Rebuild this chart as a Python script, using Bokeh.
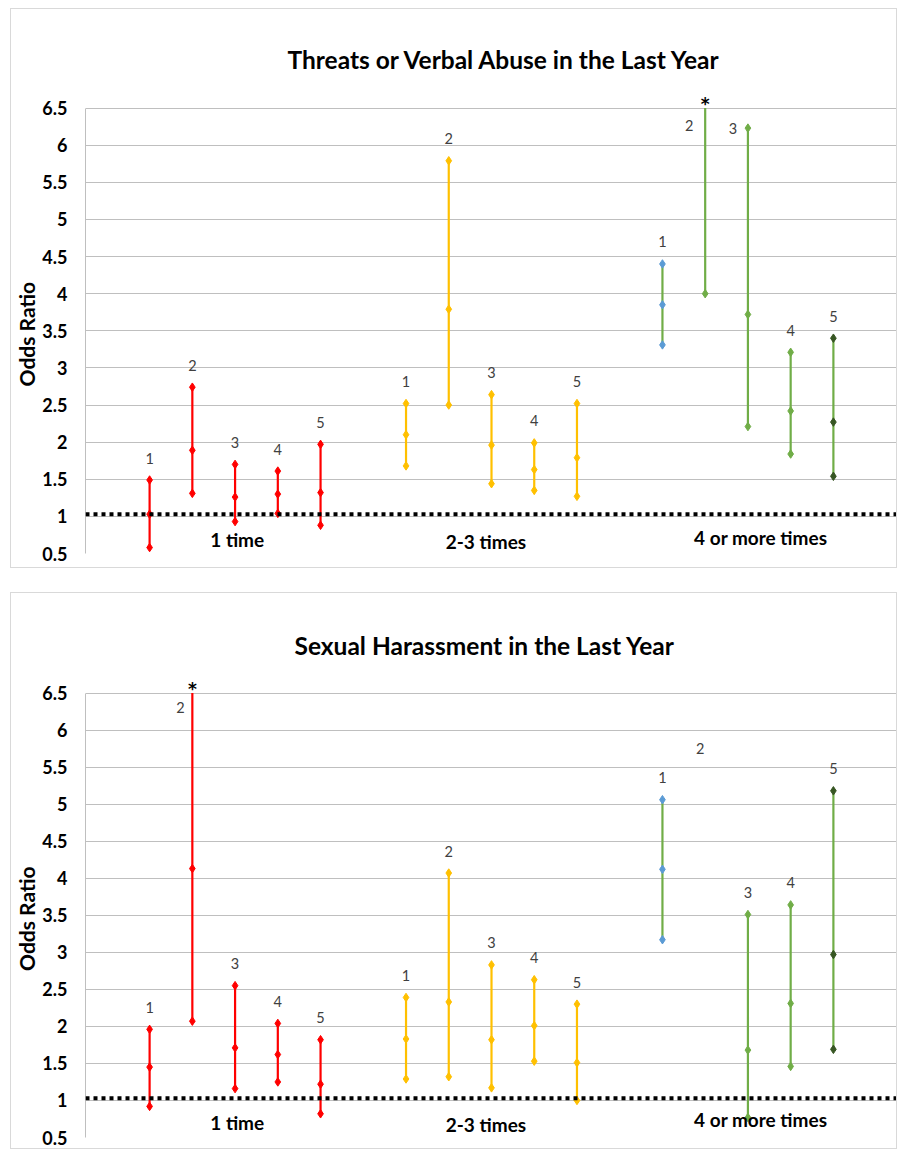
import math
from bokeh.plotting import figure
from bokeh.layouts import column
from bokeh.models import ColumnDataSource, Range1d, FixedTicker, Span
from bokeh.core.properties import value
from bokeh.embed import file_html
from bokeh.resources import INLINE

NaN = float("nan")

# ---------------- data ----------------
groups = ["1 time", "2-3 times", "4 or more times"]
items = ["1", "2", "3", "4", "5"]

# Threats or Verbal Abuse (group-major order: 1 time 1..5, 2-3 times 1..5, 4+ times 1..5)
threats_low = [0.58, 1.31, 0.93, 1.04, 0.88,
               1.68, 2.50, 1.44, 1.35, 1.27,
               3.31, 4.00, 2.21, 1.84, 1.54]
threats_mid = [1.03, 1.89, 1.26, 1.30, 1.32,
               2.10, 3.79, 1.96, 1.63, 1.79,
               3.85, NaN, 3.72, 2.42, 2.27]
threats_high = [1.49, 2.74, 1.70, 1.61, 1.97,
                2.52, 5.79, 2.64, 1.99, 2.52,
                4.40, NaN, 6.23, 3.21, 3.40]
threats_offscale = [False, False, False, False, False,
                    False, False, False, False, False,
                    False, True, False, False, False]

# Sexual Harassment
sexual_low = [0.92, 2.07, 1.16, 1.25, 0.82,
              1.29, 1.32, 1.17, 1.53, 1.00,
              3.17, NaN, 0.77, 1.46, 1.69]
sexual_mid = [1.45, 4.13, 1.71, 1.62, 1.22,
              1.83, 2.33, 1.82, 2.01, 1.51,
              4.12, NaN, 1.68, 2.31, 2.97]
sexual_high = [1.96, NaN, 2.55, 2.04, 1.82,
               2.39, 4.07, 2.83, 2.63, 2.30,
               5.06, NaN, 3.51, 3.64, 5.18]
sexual_offscale = [False, True, False, False, False,
                   False, False, False, False, False,
                   False, False, False, False, False]

y_ticks = [0.5, 1, 1.5, 2, 2.5, 3, 3.5, 4, 4.5, 5, 5.5, 6, 6.5]

# ---------------- style ----------------
FONT = "Lato"
LINE_COLORS = ["#FF0000", "#FFC000", "#70AD47"]
MARKER_COLORS = [["#FF0000"] * 5, ["#FFC000"] * 5,
                 ["#5B9BD5", "#70AD47", "#70AD47", "#70AD47", "#375623"]]
GRID = "#BFBFBF"
Y0, Y1 = 0.5, 6.5
Y_TOP = 6.75  # small headroom above the scale for the "*" marks
NB = "\u00a0"


def make_chart(title, low, mid, high, offscale, special_labels, height, top, bottom,
               title_offset, title_standoff):
    p = figure(width=887, height=height, output_backend="svg", toolbar_location=None,
               x_range=Range1d(-1.5, 17.5), y_range=Range1d(Y0, Y_TOP),
               min_border_left=72, min_border_right=1, min_border_top=top,
               min_border_bottom=bottom)
    p.outline_line_color = None
    p.styles = {"border": "1px solid #D9D9D9"}
    p.title.text = title
    p.title.align = "left"
    p.title.text_font = FONT
    p.title.text_font_style = "bold"
    p.title.text_font_size = "24.5px"
    p.title.text_color = "#000000"
    p.title.standoff = title_standoff
    p.title.offset = title_offset

    p.xaxis.visible = False
    p.xgrid.visible = False
    p.yaxis.ticker = FixedTicker(ticks=y_ticks)
    p.yaxis.bounds = (Y0, Y1)
    p.yaxis.major_label_overrides = {float(t): ("%g" % t) for t in y_ticks}
    p.yaxis.major_tick_in = 0
    p.yaxis.major_tick_out = 0
    p.yaxis.minor_tick_in = 0
    p.yaxis.minor_tick_out = 0
    p.yaxis.axis_line_color = GRID
    p.yaxis.major_label_standoff = 18
    p.yaxis.major_label_text_font = FONT
    p.yaxis.major_label_text_font_style = "bold"
    p.yaxis.major_label_text_font_size = "18px"
    p.yaxis.major_label_text_color = "#000000"
    # trailing no-break spaces re-centre the label on the 0.5-6.5 scale
    p.yaxis.axis_label = "Odds Ratio" + NB * 5
    p.yaxis.axis_label_text_font = FONT
    p.yaxis.axis_label_text_font_style = "bold"
    p.yaxis.axis_label_text_font_size = "21px"
    p.yaxis.axis_label_text_color = "#000000"
    p.yaxis.axis_label_standoff = 0
    p.ygrid.grid_line_color = GRID
    p.ygrid.grid_line_width = 1.2

    # reference line at OR = 1
    p.add_layout(Span(location=1.03, dimension="width", line_color="black",
                      line_width=4, line_dash="4 4"))

    xs, y0s, y1s, lcol = [], [], [], []
    mx, my, mcol = [], [], []
    tx, ty, ttext, tdx, tdy = [], [], [], [], []
    sx, sy = [], []
    for g in range(len(groups)):
        for i in range(len(items)):
            k = g * 5 + i
            x = g * 6 + i
            lo, md, hi = low[k], mid[k], high[k]
            top_v = Y1 if offscale[k] else hi
            if not math.isnan(lo) and not math.isnan(top_v):
                xs.append(x); y0s.append(lo); y1s.append(top_v); lcol.append(LINE_COLORS[g])
            for v in (lo, md, hi):
                if not math.isnan(v):
                    mx.append(x); my.append(v); mcol.append(MARKER_COLORS[g][i])
            # number labels
            if k in special_labels:
                dx, yv, dy = special_labels[k]
                if yv is None:
                    yv = hi
                tx.append(x); ty.append(yv); tdx.append(dx); tdy.append(dy)
            else:
                tx.append(x); ty.append(hi); tdx.append(0); tdy.append(-22)
            ttext.append(items[i])
            if offscale[k]:
                sx.append(x); sy.append(Y1)

    p.segment(x0="x", y0="y0", x1="x", y1="y1", line_color="c", line_width=2.2,
              source=ColumnDataSource(dict(x=xs, y0=y0s, y1=y1s, c=lcol)))
    p.scatter(x="x", y="y", marker="diamond", size=8.5, fill_color="c", line_color="c",
              source=ColumnDataSource(dict(x=mx, y=my, c=mcol)))
    p.text(x="x", y="y", text="t", x_offset="dx", y_offset="dy",
           text_font=value(FONT), text_font_size="14.5px", text_color="#404040",
           text_align="center", text_baseline="middle",
           source=ColumnDataSource(dict(x=tx, y=ty, t=ttext, dx=tdx, dy=tdy)))
    p.text(x=sx, y=sy, text=["*"] * len(sx), y_offset=-4,
           text_font=value("DejaVu Sans"), text_font_style="bold", text_font_size="17px",
           text_color="#000000", text_align="center", text_baseline="alphabetic")
    return p


# label specials: index -> (x offset px, y value or None for high, y offset px)
threat_special = {11: (-16, Y1, 17), 12: (-15, None, 0)}
sexual_special = {1: (-12, Y1, 14), 11: (-5, 5.75, 0)}

p1 = make_chart("Threats or Verbal Abuse in the Last Year", threats_low, threats_mid,
                threats_high, threats_offscale, threat_special, 560, 80, 16, 202, 31)
p2 = make_chart("Sexual Harassment in the Last Year", sexual_low, sexual_mid,
                sexual_high, sexual_offscale, sexual_special, 557, 81, 13, 209, 29)

# group labels
for p, ys in ((p1, [0.69, 0.66, 0.72]), (p2, [0.70, 0.68, 0.74])):
    shifts = [0.05, -0.13, 0.3]
    p.text(x=[g * 6 + 2 + shifts[g] for g in range(3)], y=ys, text=groups,
           text_font=value(FONT), text_font_style="bold", text_font_size="19px",
           text_color="#000000", text_align="center", text_baseline="middle")

layout = column(p1, p2, spacing=24, margin=(8, 0, 0, 10))
open("out.html", "w").write(file_html(layout, INLINE))
